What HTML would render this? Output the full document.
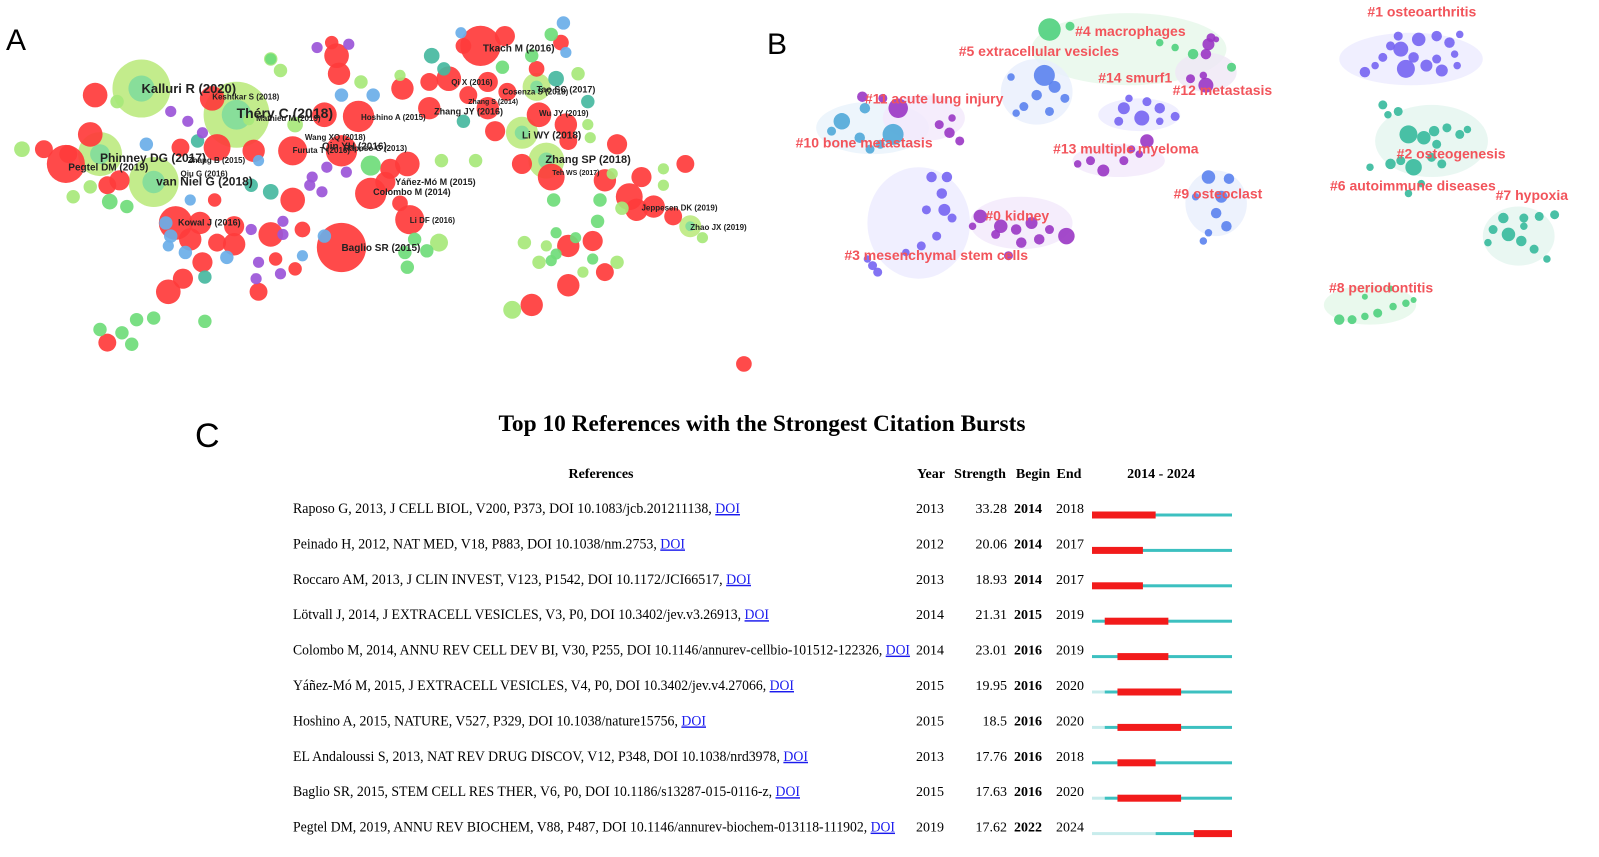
<!DOCTYPE html>
<html><head><meta charset="utf-8"><style>
html,body{margin:0;padding:0;background:#fff;}
svg{display:block;font-family:"Liberation Sans",sans-serif;}
</style></head><body>
<svg id="s" width="1599" height="857" viewBox="0 0 1599 857">
<text x="6" y="50" font-size="30">A</text>
<text x="767" y="54" font-size="30">B</text>
<text x="195" y="447" font-size="34">C</text>
<g id="ga"></g>
<g id="gb"></g>
<g id="gc"></g>
</svg>
<script>
const NS='http://www.w3.org/2000/svg';
function mk(tag,attrs,parent){const e=document.createElementNS(NS,tag);for(const k in attrs)e.setAttribute(k,attrs[k]);parent.appendChild(e);return e;}

// ---------- Panel A network nodes: [zoomX, zoomY, radius, colorKey]
const aNodes=[
[290,270,29,'g'],[485,350,33,'g'],[205,470,22,'g'],[315,555,25,'g'],[1070,405,16,'g'],[1120,490,18,'g'],[1100,265,14,'g'],[1415,690,11,'g'],
[195,290,11,'r'],[185,410,11,'r'],[135,500,17,'r'],[90,455,8,'r'],[140,470,8,'r'],[220,565,8,'r'],[245,550,9,'r'],[370,450,8,'r'],[435,300,11,'r'],[445,450,12,'r'],[520,460,10,'r'],[600,460,13,'r'],[665,350,11,'r'],[735,355,14,'r'],[700,460,14,'r'],[680,130,6,'r'],[690,170,11,'r'],[695,225,10,'r'],[825,270,10,'r'],[880,250,8,'r'],[920,240,11,'r'],[985,140,18,'r'],[1035,110,9,'r'],[1150,130,7,'r'],[1100,210,7,'r'],[950,140,7,'r'],[1015,400,9,'r'],[1000,330,10,'r'],[880,330,10,'r'],[1070,500,9,'r'],[1130,540,12,'r'],[1160,380,10,'r'],[1105,350,11,'r'],[1165,430,8,'r'],[1240,550,10,'r'],[1265,440,9,'r'],[1315,540,9,'r'],[1290,600,12,'r'],[1305,640,10,'r'],[1340,630,10,'r'],[1380,660,8,'r'],[1405,500,8,'r'],[1215,735,9,'r'],[1165,750,10,'r'],[1240,830,8,'r'],[1165,870,10,'r'],[1090,930,10,'r'],[835,500,11,'r'],[800,515,9,'r'],[760,590,14,'r'],[820,620,7,'r'],[840,670,13,'r'],[700,755,22,'r'],[600,610,11,'r'],[555,715,11,'r'],[480,745,10,'r'],[480,690,9,'r'],[440,610,6,'r'],[360,680,15,'r'],[390,730,10,'r'],[410,680,10,'r'],[445,740,8,'r'],[415,800,9,'r'],[375,850,9,'r'],[345,890,11,'r'],[530,890,8,'r'],[565,790,6,'r'],[605,820,6,'r'],[620,700,7,'r'],[220,1045,8,'r'],[1525,1110,7,'r'],[1000,250,9,'r'],[960,290,8,'r'],[1040,280,8,'r'],[790,555,9,'r'],
[45,455,7,'l'],[150,600,6,'l'],[185,570,6,'l'],[240,310,6,'l'],[555,180,6,'l'],[575,215,6,'l'],[740,250,6,'l'],[820,230,5,'l'],[905,490,6,'l'],[975,490,6,'l'],[1185,225,6,'l'],[1205,380,5,'l'],[1210,420,5,'l'],[1255,530,5,'l'],[1275,635,6,'l'],[1360,515,5,'l'],[1360,565,5,'l'],[1440,725,5,'l'],[1075,740,6,'l'],[1120,750,5,'l'],[1105,800,6,'l'],[1195,830,5,'l'],[1265,800,6,'l'],[1050,945,8,'l'],[900,740,8,'l'],[510,365,5,'l'],[605,380,7,'l'],
[555,180,5,'m'],[225,615,7,'m'],[260,630,6,'m'],[315,970,6,'m'],[280,975,6,'m'],[250,1015,6,'m'],[205,1005,6,'m'],[270,1050,6,'m'],[835,815,6,'m'],[830,770,6,'m'],[850,730,6,'m'],[875,765,6,'m'],[1135,610,6,'m'],[1180,725,5,'m'],[1230,610,6,'m'],[1225,675,6,'m'],[1140,710,5,'m'],[1140,775,5,'m'],[1130,795,5,'m'],[1215,790,5,'m'],[760,505,9,'m'],[1130,105,6,'m'],[1030,205,6,'m'],[1090,170,6,'m'],[420,980,6,'m'],
[300,440,6,'b'],[350,720,6,'b'],[345,750,5,'b'],[380,770,6,'b'],[465,785,6,'b'],[390,610,5,'b'],[340,680,6,'b'],[700,290,6,'b'],[765,290,6,'b'],[1155,70,6,'b'],[1160,160,5,'b'],[945,100,5,'b'],[665,720,6,'b'],[620,780,5,'b'],[530,490,5,'b'],
[405,430,6,'t'],[885,170,7,'t'],[910,210,6,'t'],[950,370,6,'t'],[555,585,7,'t'],[515,565,6,'t'],[420,845,6,'t'],[1205,310,6,'t'],[1140,240,7,'t'],
[350,340,5,'p'],[385,370,5,'p'],[415,405,5,'p'],[650,145,5,'p'],[715,135,5,'p'],[640,540,5,'p'],[635,565,5,'p'],[660,585,5,'p'],[670,510,5,'p'],[710,525,5,'p'],[580,675,5,'p'],[515,700,5,'p'],[580,715,5,'p'],[530,800,5,'p'],[525,850,5,'p'],[575,835,5,'p']
];
const aColors={g:'#b9e978',r:'#ff3b3b',l:'#a7e87a',m:'#6fdc7a',b:'#6aaee8',t:'#46b8a0',p:'#9b55d8'};
const aLabels=[
["Kalluri R (2020)",290,270,13],["Théry C (2018)",485,345,14],["Phinney DG (2017)",205,482,12],["van Niel G (2018)",320,553,12],["Pegtel DM (2019)",140,510,10],
["Keshtkar S (2018)",435,295,8],["Mathieu M (2019)",525,360,8],["Yáñez-Mó M (2015)",810,555,9],["Colombo M (2014)",765,585,9],["Baglio SR (2015)",700,755,10],["Li DF (2016)",840,672,8],
["Tkach M (2016)",990,147,10],["Qi X (2016)",925,250,8],["Tao SC (2017)",1100,272,9],["Cosenza S (2018)",1030,280,8],["Zhang S (2014)",960,310,7],["Zhang JY (2016)",890,340,9],["Wu JY (2019)",1105,345,8],
["Li WY (2018)",1070,412,10],["Zhang SP (2018)",1118,485,11],["Teh WS (2017)",1132,526,7],["Jeppesen DK (2019)",1315,633,8],["Zhao JX (2019)",1415,693,8],
["Wang XQ (2018)",625,418,8],["Qin YH (2016)",660,445,10],["Furuta T (2016)",600,458,8],["Raposo G (2013)",705,452,8],["Hoshino A (2015)",740,357,8],["Kowal J (2016)",365,678,9],["Zhang B (2015)",385,488,8],["Qiu G (2016)",370,530,8]
];

const ga=document.getElementById('ga');
const sx=v=>v/2.05, sy=v=>v/3.05;
aNodes.filter(n=>n[3]==='g').forEach(n=>{
  const c=mk('circle',{cx:sx(n[0]),cy:sy(n[1]),r:n[2],fill:aColors.g,opacity:0.85},ga);
  
  
  const c2=mk('circle',{cx:sx(n[0]),cy:sy(n[1]),r:n[2]*0.45,fill:'#6fd8a0',opacity:0.7},ga);
  
  
});
aNodes.filter(n=>n[3]!=='g').forEach(n=>{
  const c=mk('circle',{cx:sx(n[0]),cy:sy(n[1]),r:n[2]*1.12,fill:aColors[n[3]],opacity:0.92},ga);
  
  
});
aLabels.forEach(l=>{
  const t=mk('text',{x:sx(l[1]),y:sy(l[2])+l[3]*0.35,'font-size':l[3],fill:'#222','font-weight':'bold'},ga);
  t.textContent=l[0];
  
  
});

// ---------- Panel B clusters
const bHulls=[ // zoomX, zoomY, rx, ry, color
[700,150,190,110,'#e6f7ea'],[1250,180,140,80,'#ecebff'],[1290,430,110,110,'#e3f5ef'],[1460,720,70,90,'#e3f5ef'],[1170,930,90,60,'#e3f7e8'],
[520,280,70,100,'#e8effd'],[720,350,80,50,'#ecebff'],[680,490,90,50,'#f3e9fb'],[870,620,60,100,'#e8effd'],[200,390,110,80,'#e8f3fb'],[300,360,80,70,'#f3e9fb'],
[290,680,100,170,'#ecebff'],[490,680,100,80,'#f3e9fb'],[850,220,60,60,'#efe7f5']
];
const bNodes=[
[1180,200,5,'v'],[1210,140,6,'v'],[1225,110,6,'v'],[1230,150,10,'v'],[1265,120,9,'v'],[1300,110,7,'v'],[1325,130,7,'v'],[1345,105,5,'v'],[1335,165,5,'v'],[1240,210,12,'v'],[1280,200,8,'v'],[1310,215,8,'v'],[1300,180,6,'v'],[1340,200,5,'v'],[1160,220,7,'v'],[1195,175,6,'v'],[1255,175,7,'v'],
[1195,320,6,'t'],[1205,350,5,'t'],[1225,340,6,'t'],[1245,410,12,'t'],[1275,420,9,'t'],[1295,400,7,'t'],[1320,390,6,'t'],[1345,410,6,'t'],[1360,395,5,'t'],[1300,440,6,'t'],[1230,490,6,'t'],[1210,500,7,'t'],[1170,510,5,'t'],[1255,510,11,'t'],[1290,480,6,'t'],[1310,500,6,'t'],[1245,590,5,'t'],[1270,560,5,'t'],
[1430,665,7,'t'],[1470,665,6,'t'],[1500,660,6,'t'],[1530,655,6,'t'],[1410,700,6,'t'],[1440,715,9,'t'],[1465,735,7,'t'],[1400,740,5,'t'],[1490,760,6,'t'],[1515,790,5,'t'],[1470,690,5,'t'],
[1110,975,7,'e'],[1135,975,6,'e'],[1160,965,5,'e'],[1185,955,6,'e'],[1215,935,5,'e'],[1240,925,5,'e'],[1255,915,4,'e'],[1160,905,4,'e'],[1210,880,4,'e'],
[545,90,15,'e'],[585,80,6,'e'],[760,130,5,'e'],[790,145,5,'e'],[825,165,7,'e'],[900,205,6,'e'],
[860,115,6,'p'],[855,135,8,'p'],[850,165,7,'p'],[820,240,6,'p'],[850,260,10,'p'],[845,230,5,'p'],[870,120,4,'p'],
[535,230,14,'b'],[555,265,8,'b'],[520,290,7,'b'],[495,325,6,'b'],[545,340,6,'b'],[480,345,5,'b'],[470,235,5,'b'],[575,300,6,'b'],
[690,330,8,'v'],[725,360,10,'v'],[760,330,7,'v'],[735,310,6,'v'],[680,370,6,'v'],[790,355,6,'v'],[700,300,5,'v'],[760,370,5,'v'],
[735,430,9,'p'],[705,455,5,'p'],[625,490,6,'p'],[650,520,8,'p'],[690,490,6,'p'],[720,470,5,'p'],[600,500,5,'p'],
[855,540,9,'b'],[895,545,7,'b'],[880,600,8,'b'],[870,650,7,'b'],[890,690,7,'b'],[855,710,5,'b'],[845,735,5,'b'],[830,600,5,'b'],
[140,370,11,'c'],[185,330,7,'c'],[240,410,14,'c'],[175,420,7,'c'],[120,400,6,'c'],[195,455,6,'c'],[215,440,6,'c'],
[250,330,13,'p'],[180,295,7,'p'],[330,380,6,'p'],[350,405,7,'p'],[370,430,6,'p'],[355,360,5,'p'],[220,300,6,'p'],
[315,540,7,'v'],[345,540,7,'v'],[335,590,7,'v'],[340,640,8,'v'],[355,665,6,'v'],[325,720,6,'v'],[295,750,6,'v'],[265,770,5,'v'],[200,810,6,'v'],[210,830,6,'v'],[190,790,5,'v'],[305,640,6,'v'],
[410,660,9,'p'],[450,690,9,'p'],[480,700,7,'p'],[510,680,8,'p'],[578,720,11,'p'],[440,715,6,'p'],[490,740,7,'p'],[525,730,7,'p'],[465,780,6,'p'],[395,690,5,'p'],[545,700,6,'p']
];
const bColors={v:'#7664f2',t:'#36b99c',e:'#4fd07d',p:'#9a36c4',b:'#5a82ee',c:'#4fa8d8'};
const bLabels=[
["#1 osteoarthritis",1165,35],["#4 macrophages",595,95],["#5 extracellular vesicles",368,155],["#11 acute lung injury",185,300],["#14 smurf1",640,237],["#12 metastasis",785,275],
["#10 bone metastasis",50,435],["#13 multiple myeloma",552,453],["#2 osteogenesis",1222,468],["#6 autoimmune diseases",1092,566],["#7 hypoxia",1415,595],["#9 osteoclast",787,590],
["#0 kidney",420,657],["#3 mesenchymal stem cells",145,777],["#8 periodontitis",1090,877]
];
const gb=document.getElementById('gb');
const bx=v=>770+v/1.95, by=v=>v/3.05;
bHulls.forEach(h=>{
  const e=mk('ellipse',{cx:bx(h[0]),cy:by(h[1]),rx:h[2]/1.95,ry:h[3]/3.05,fill:h[4],opacity:0.8},gb);
  
  
});
bNodes.forEach(n=>{
  const c=mk('circle',{cx:bx(n[0]),cy:by(n[1]),r:n[2]*0.75,fill:bColors[n[3]],opacity:0.9},gb);
  
  
});
bLabels.forEach(l=>{
  const t=mk('text',{x:bx(l[1]),y:by(l[2])+5,'font-size':14,fill:'#f2545b','font-weight':'bold'},gb);
  t.textContent=l[0];
  
  
});

// ---------- Panel C burst table
const refs=["Raposo G, 2013, J CELL BIOL, V200, P373, DOI 10.1083/jcb.201211138, ",
"Peinado H, 2012, NAT MED, V18, P883, DOI 10.1038/nm.2753, ",
"Roccaro AM, 2013, J CLIN INVEST, V123, P1542, DOI 10.1172/JCI66517, ",
"Lötvall J, 2014, J EXTRACELL VESICLES, V3, P0, DOI 10.3402/jev.v3.26913, ",
"Colombo M, 2014, ANNU REV CELL DEV BI, V30, P255, DOI 10.1146/annurev-cellbio-101512-122326, ",
"Yáñez-Mó M, 2015, J EXTRACELL VESICLES, V4, P0, DOI 10.3402/jev.v4.27066, ",
"Hoshino A, 2015, NATURE, V527, P329, DOI 10.1038/nature15756, ",
"EL Andaloussi S, 2013, NAT REV DRUG DISCOV, V12, P348, DOI 10.1038/nrd3978, ",
"Baglio SR, 2015, STEM CELL RES THER, V6, P0, DOI 10.1186/s13287-015-0116-z, ",
"Pegtel DM, 2019, ANNU REV BIOCHEM, V88, P487, DOI 10.1146/annurev-biochem-013118-111902, "];
const refWidths=[447,392,458,476,617,501,413,515,507,602];
const years=[2013,2012,2013,2014,2014,2015,2015,2013,2015,2019];
const strengths=["33.28","20.06","18.93","21.31","23.01","19.95","18.5","17.76","17.63","17.62"];
const begins=[2014,2014,2014,2015,2016,2016,2016,2016,2016,2022];
const ends=[2018,2017,2017,2019,2019,2020,2020,2018,2020,2024];
const yrStart=2014, yrEnd=2024;

const gc=document.getElementById('gc');
const tx=(x,y,s,o)=>{const t=mk('text',Object.assign({x:x,y:y,'font-family':'"Liberation Serif",serif','font-size':14},o||{}),gc);t.textContent=s;return t;};
let t=tx(762,431,'Top 10 References with the Strongest Citation Bursts',{'font-size':23,'font-weight':'bold','text-anchor':'middle',textLength:527,lengthAdjust:'spacingAndGlyphs'});

const hdr=[['References',601,'middle'],['Year',931,'middle'],['Strength',980,'middle'],['Begin',1033,'middle'],['End',1069,'middle'],['2014 - 2024',1161,'middle']];
hdr.forEach(h=>{const e=tx(h[1],478,h[0],{'font-weight':'bold','text-anchor':h[2],'font-size':14});
 });
const x0=1092,x1=1232,yw=(x1-x0)/(yrEnd-yrStart+1);
const xs=y=>x0+(y-yrStart)*yw;
refs.forEach((r,i)=>{
  const y=513+i*35.4;
  const e=mk('text',{x:293,y:y,'font-family':'"Liberation Serif",serif','font-size':14.5,textLength:refWidths[i],lengthAdjust:'spacingAndGlyphs'},gc);
  
  
  e.appendChild(document.createTextNode(r));
  const a=mk('tspan',{fill:'#1a1aee','text-decoration':'underline'},e);
  a.textContent='DOI';
  
  
  let c=tx(930,y,String(years[i]),{'text-anchor':'middle'});
  c=tx(1007,y,strengths[i],{'text-anchor':'end'});
  c=tx(1028,y,String(begins[i]),{'font-weight':'bold','text-anchor':'middle'});
  c=tx(1070,y,String(ends[i]),{'text-anchor':'middle'});
  const ly=y+2;
  const pub=Math.max(years[i],yrStart);
  if(years[i]>yrStart){const p=mk('rect',{x:x0,y:ly-1.5,width:xs(years[i])-x0,height:3,fill:'#c8ecec'},gc);}
  const l=mk('rect',{x:xs(pub),y:ly-1.5,width:x1-xs(pub),height:3,fill:'#3cc0c0'},gc);
  
  const b=mk('rect',{x:xs(begins[i]),y:ly-3.5,width:xs(ends[i]+1)-xs(begins[i]),height:7,fill:'#f21b1b'},gc);
  
});
</script>
</body></html>
